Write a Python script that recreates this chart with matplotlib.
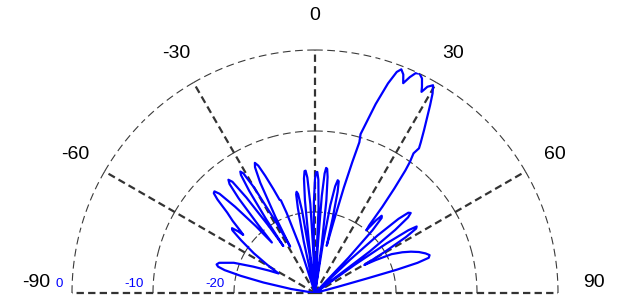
import numpy as np
import matplotlib.pyplot as plt
from matplotlib import transforms

plt.rcParams['font.family'] = ['Liberation Sans', 'DejaVu Sans']

# pattern: angle (deg) and gain (dB), clipped at -30
theta_deg = [-90, -82, -80.5, -78.5, -77.0, -75.8, -74.8, -73.8, -72.5, -69.6,
             -66.9, -64.0, -61.8, -59.5, -57.0, -54.5, -52.8, -52.0, -51.3, -51.0,
             -50.2, -48.8, -47.5, -46.2, -45.4, -44.7, -43.9, -42.8, -41.5, -40.5,
             -39.8, -38.9, -38.1, -37.4, -36.6, -35.7, -34.6, -34.0, -33.5, -32.8,
             -32.1, -31.6, -30.9, -30.0, -28.8, -28.2, -27.5, -26.4, -25.5, -24.8,
             -24.0, -23.0, -21.8, -20.8, -20.2, -19.5, -18.0, -16.5, -13.2, -12.3,
             -11.4, -10.8, -10.3, -9.7, -8.9, -8.0, -7.4, -6.9, -6.2, -5.5,
             -4.9, -4.4, -3.8, -3.0, -2.3, -1.9, -1.4, -0.7, 0.0, 0.5,
             1.1, 1.7, 2.4, 3.0, 3.4, 4.0, 4.6, 5.1, 5.6, 6.2,
             7.0, 7.9, 8.5, 9.1, 9.9, 10.7, 11.4, 12.0, 12.6, 13.3,
             13.9, 14.6, 15.3, 15.9, 16.4, 16.0, 16.6, 17.8, 19.2, 20.3,
             21.1, 22.0, 22.8, 23.7, 24.6, 25.5, 26.5, 27.4, 27.9, 28.6,
             29.6, 30.5, 31.5, 32.5, 33.8, 35.1, 35.7, 35.2, 35.9, 36.4,
             37.2, 38.0, 38.7, 39.3, 40.0, 40.8, 41.6, 42.5, 43.5, 44.5,
             45.7, 46.5, 47.4, 48.4, 49.3, 50.1, 50.9, 51.8, 52.8, 53.8,
             54.6, 55.3, 56.1, 56.8, 57.5, 58.4, 59.5, 60.4, 61.5, 63.1,
             65.0, 66.7, 68.5, 70.3, 71.7, 72.8, 73.6, 74.1, 74.4, 74.8,
             75.5, 90]
gain_db = [-30, -30, -27.0, -23.5, -20.6, -18.5, -17.6, -17.35, -17.6, -19.3,
           -21.7, -23.7, -24.9, -23.2, -21.0, -18.8, -17.2, -17.0, -17.8, -18.6,
           -18.0, -16.5, -15.3, -13.3, -12.45, -12.35, -13.0, -15.5, -19.0, -21.8,
           -19.0, -15.0, -12.9, -12.4, -12.9, -15.5, -20.0, -23.0, -19.0, -15.0,
           -12.8, -12.4, -12.8, -15.0, -20.0, -23.5, -19.5, -14.8, -12.8, -12.3,
           -12.8, -14.3, -16.2, -17.7, -17.8, -19.5, -24.0, -30, -30, -23.5,
           -19.3, -17.6, -17.3, -17.6, -19.8, -25.0, -30, -24.0, -18.5, -15.8,
           -14.9, -14.85, -15.7, -19.0, -25.0, -30, -24.0, -18.8, -15.9, -15.1,
           -15.05, -16.0, -19.5, -30, -24.0, -18.0, -15.2, -14.5, -14.6, -15.6,
           -18.5, -24.0, -30, -24.0, -19.0, -16.6, -15.8, -15.9, -17.2, -20.5,
           -24.0, -21.0, -16.5, -13.2, -10.6, -9.6, -8.4, -5.5, -2.6, -0.9,
           -0.4, -0.9, -1.9, -0.9, -0.15, 0.0, -0.4, -1.3, -1.9, -1.0,
           -0.5, -1.4, -2.8, -4.2, -5.8, -7.3, -8.0, -8.9, -10.0, -11.2,
           -13.8, -16.5, -19.3, -20.0, -18.3, -17.4, -17.6, -19.5, -24.0, -30,
           -30, -24.0, -19.5, -16.2, -14.8, -14.6, -15.2, -17.4, -21.5, -30,
           -24.0, -19.2, -16.1, -15.0, -15.2, -16.8, -20.0, -23.0, -21.5, -19.4,
           -18.1, -17.1, -16.2, -15.5, -15.1, -15.3, -16.8, -19.5, -23.4, -27.0,
           -30, -30]

angle_ticks = [-90, -60, -30, 0, 30, 60, 90]
ring_values = [-20, -10, 0]
r_min, r_max = -30, 0

fig = plt.figure(figsize=(6.22, 2.95), dpi=100)
# square polar box: semicircle centre at (315, 293) px, radius 243 px
ax = fig.add_axes([72 / 622, -119.5 / 295, 486 / 622, 486 / 295], projection='polar')
ax.set_theta_zero_location('N')
ax.set_theta_direction(-1)
ax.set_thetamin(-90)
ax.set_thetamax(90)
ax.set_ylim(r_min, r_max)
ax.axis('off')

# grid drawn by hand: thin dashed rings (dash pattern restarts at each spoke),
# thick dashed spokes
ring_style = dict(color='#3a3a3a', linewidth=0.8, linestyle=(0, (7.0, 4.0)),
                  clip_on=False, zorder=1)
for v in ring_values:
    for a, b in zip(angle_ticks[:-1], angle_ticks[1:]):
        mid = (a + b) / 2
        for start in (a, b):
            t = np.deg2rad(np.linspace(start, mid, 80))
            ax.plot(t, np.full(t.shape, v), **ring_style)
for a in angle_ticks:
    ax.plot([np.deg2rad(a)] * 2, [r_min, r_max], color='#333333', linewidth=1.6,
            linestyle=(0, (3.3, 1.9)), clip_on=False, zorder=1)

ax.plot(np.deg2rad(theta_deg), gain_db, color='blue', linewidth=1.6, zorder=3)

for a in angle_ticks:
    if abs(a) == 90:
        ax.text(np.deg2rad(np.sign(a) * 87.9), 4.45, str(a), ha='center', va='center', fontsize=14)
    else:
        ax.text(np.deg2rad(a), 4.2, str(a), ha='center', va='center', fontsize=14)

lab_tr = transforms.offset_copy(ax.transData, fig=fig, x=-9, y=9, units='dots')
for v in ring_values:
    ax.text(np.deg2rad(-90), v, str(v), transform=lab_tr, ha='right', va='center',
            fontsize=9.5, color='blue')

fig.savefig('out.png', dpi=100)
